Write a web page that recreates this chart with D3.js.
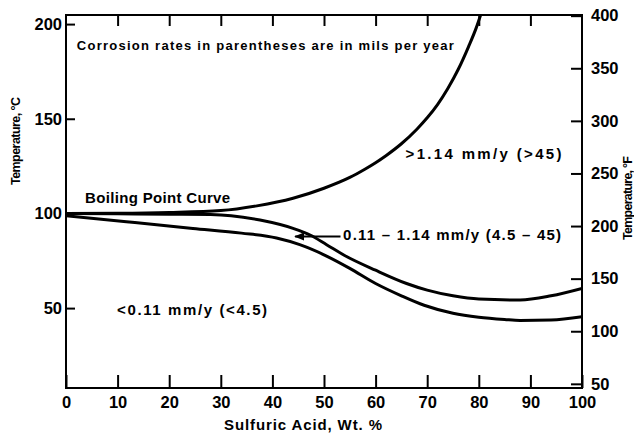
<!DOCTYPE html>
<html>
<head>
<meta charset="utf-8">
<script src="https://cdn.jsdelivr.net/npm/d3@7/dist/d3.min.js"></script>
<style>
  html, body { margin: 0; padding: 0; background: #fff; }
  svg { display: block; }
  text { font-family: "Liberation Sans", Arial, Helvetica, sans-serif; font-weight: bold; fill: #000; }
</style>
</head>
<body>
<svg id="chart" width="634" height="433"></svg>
<script>
// Sulfuric acid concentration (wt. %) on the x axis
const acidTicks = [0, 10, 20, 30, 40, 50, 60, 70, 80, 90, 100];
// Temperature ticks: Celsius on the left, Fahrenheit on the right
const tempCTicks = [50, 100, 150, 200];
const tempFTicks = [50, 100, 150, 200, 250, 300, 350, 400];

// Boiling point of sulfuric acid solutions, [wt. %, °C]
const boilingCurve = [
  [0, 100], [10, 100.1], [20, 100.5], [30, 101.5], [37, 104], [44, 108],
  [50, 113.3], [55, 119], [58, 123.5], [60, 126.8], [62, 130.5],
  [65, 136.8], [68, 144.5], [70, 150.5], [72, 157.5], [74, 166],
  [76, 176], [78, 188], [79.5, 198], [80.5, 206]
];
// Iso-corrosion line 1.14 mm/y (45 mpy), [wt. %, °C]
const upperIsoLine = [
  [0, 100], [10, 99.8], [20, 99.6], [28, 99.4], [32, 98.8], [37.6, 96.5],
  [44, 92.1], [47.3, 88.6], [50.5, 83.5], [54, 77.8], [60, 70], [66, 63],
  [70, 59.5], [75, 56.5], [80, 54.8], [88, 54.3], [94, 56.5], [100, 60.4]
];
// Iso-corrosion line 0.11 mm/y (4.5 mpy), [wt. %, °C]
const lowerIsoLine = [
  [0, 98.8], [11.7, 95.6], [24.6, 92.1], [34, 89.6], [40.8, 87], [45.3, 83.5],
  [50.5, 77.5], [55, 71], [60, 63], [65, 56.5], [69.4, 51.5], [75, 47.3],
  [80, 45.2], [85, 44], [88, 43.5], [94, 43.7], [100, 45.4]
];

// Region labels: [text, wt. %, °C at baseline, drawn width, font size]
const regionLabels = [
  ["Corrosion rates in parentheses are in mils per year", 2.1, 186.5, 377, 13],
  ["Boiling Point Curve", 3.7, 105.5, 145, 15],
  [">1.14 mm/y (>45)", 65.8, 128.8, 156, 15],
  ["0.11 \u2013 1.14 mm/y (4.5 \u2013 45)", 53.7, 86.2, 218, 15],
  ["<0.11 mm/y (<4.5)", 9.9, 46.5, 150, 15]
];
// Leader arrow for the middle band: [from wt. %, to wt. %, °C]
const bandArrow = [53.2, 44.4, 87.8];

const svg = d3.select("#chart");
const mLeft = 66, mRight = 582, mTop = 15, mBottom = 388;

const x = d3.scaleLinear().domain([0, 100]).range([mLeft, mRight]);
const yC = d3.scaleLinear().domain([7.8, 204.8]).range([mBottom, mTop]);
const toF = c => c * 9 / 5 + 32;
const yF = d3.scaleLinear().domain(yC.domain().map(toF)).range([mBottom, mTop]);

const defs = svg.append("defs");
defs.append("clipPath").attr("id", "plot")
  .append("rect").attr("x", mLeft).attr("y", mTop)
  .attr("width", mRight - mLeft).attr("height", mBottom - mTop);

// Axes with inward-pointing ticks
const tickFont = "16.5px";
const gB = svg.append("g").attr("transform", `translate(0,${mBottom})`)
  .call(d3.axisBottom(x).tickValues(acidTicks).tickSizeInner(-13).tickSizeOuter(0).tickPadding(8).tickFormat(d3.format("d")));
const gT = svg.append("g").attr("transform", `translate(0,${mTop})`)
  .call(d3.axisTop(x).tickValues(acidTicks.slice(1, -1)).tickSizeInner(-11).tickSizeOuter(0).tickFormat(""));
const gL = svg.append("g").attr("transform", `translate(${mLeft},0)`)
  .call(d3.axisLeft(yC).tickValues(tempCTicks).tickSizeInner(-9).tickSizeOuter(0).tickPadding(4).tickFormat(d3.format("d")));
const gR = svg.append("g").attr("transform", `translate(${mRight},0)`)
  .call(d3.axisRight(yF).tickValues(tempFTicks).tickSizeInner(-11).tickSizeOuter(0).tickPadding(9).tickFormat(d3.format("d")));

[gB, gT, gL, gR].forEach(g => {
  g.select(".domain").remove();
  g.selectAll(".tick line").attr("stroke", "#000").attr("stroke-width", 2);
  g.selectAll(".tick text").style("font-size", tickFont).attr("fill", "#000");
});

// Frame
svg.append("rect")
  .attr("x", mLeft).attr("y", mTop)
  .attr("width", mRight - mLeft).attr("height", mBottom - mTop)
  .attr("fill", "none").attr("stroke", "#000").attr("stroke-width", 2);

// Curves
const line = d3.line().x(d => x(d[0])).y(d => yC(d[1])).curve(d3.curveMonotoneX);
const curves = svg.append("g").attr("clip-path", "url(#plot)");
[boilingCurve, upperIsoLine, lowerIsoLine].forEach(data => {
  curves.append("path").datum(data)
    .attr("d", line)
    .attr("fill", "none").attr("stroke", "#000")
    .attr("stroke-width", 3).attr("stroke-linejoin", "round").attr("stroke-linecap", "round");
});

// Region labels
regionLabels.forEach(([t, w, c, len, size]) => {
  svg.append("text")
    .attr("x", x(w)).attr("y", yC(c))
    .attr("textLength", len)
    .style("font-size", size + "px")
    .text(t);
});

// Arrow pointing into the middle band
defs.append("marker")
  .attr("id", "head").attr("viewBox", "0 -5 10 10")
  .attr("refX", 9).attr("refY", 0)
  .attr("markerWidth", 5).attr("markerHeight", 5)
  .attr("markerUnits", "strokeWidth")
  .attr("orient", "auto")
  .append("path").attr("d", "M0,-4L10,0L0,4Z").attr("fill", "#000");
svg.append("line")
  .attr("x1", x(bandArrow[0])).attr("y1", yC(bandArrow[2]))
  .attr("x2", x(bandArrow[1])).attr("y2", yC(bandArrow[2]))
  .attr("stroke", "#000").attr("stroke-width", 2)
  .attr("marker-end", "url(#head)");

// Axis titles
svg.append("text")
  .attr("x", 224).attr("y", 430)
  .attr("textLength", 158)
  .style("font-size", "15px")
  .text("Sulfuric Acid, Wt. %");
svg.append("text")
  .attr("transform", "translate(20,141) rotate(-90)")
  .attr("text-anchor", "middle")
  .attr("textLength", 88)
  .style("font-size", "12.5px")
  .text("Temperature, \u00B0C");
svg.append("text")
  .attr("transform", "translate(632,198) rotate(-90)")
  .attr("text-anchor", "middle")
  .attr("textLength", 84)
  .style("font-size", "12.5px")
  .text("Temperature, \u00B0F");
</script>
</body>
</html>
